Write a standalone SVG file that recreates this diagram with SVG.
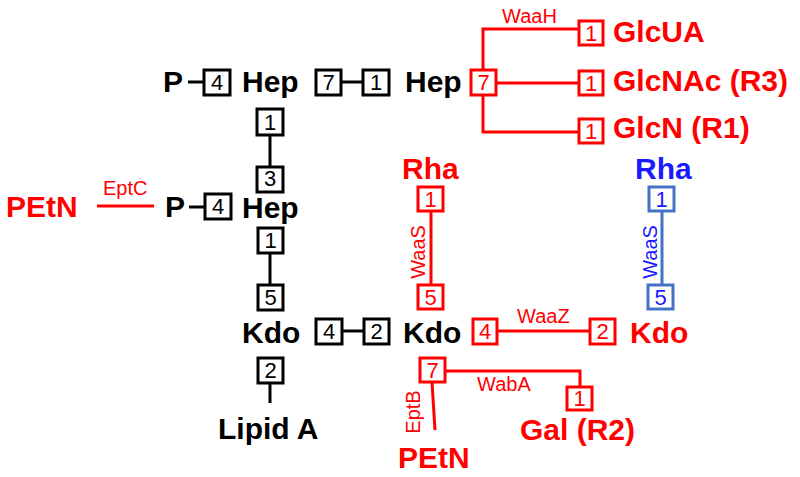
<svg xmlns="http://www.w3.org/2000/svg" width="800" height="477" viewBox="0 0 800 477">
<style>
.big{font-family:"Liberation Sans",Arial,sans-serif;font-weight:bold;font-size:30px}
.lab{font-family:"Liberation Sans",Arial,sans-serif;font-size:20px}
.num{font-family:"Liberation Sans",Arial,sans-serif;font-size:22px;text-anchor:middle}
.bx{fill:#fff;stroke-width:3}
.k{fill:#000}.r{fill:#ff0000}.b{fill:#1a1aff}
.kb{stroke:#000}.rb{stroke:#ff0000}.bb{stroke:#4472c4}
.ln{fill:none;stroke-width:3}
</style>
<rect width="800" height="477" fill="#fff"/>
<g id="connectors">
  <line class="ln kb" x1="188" y1="82" x2="204" y2="82"/>
  <line class="ln kb" x1="341" y1="82" x2="363" y2="82"/>
  <line class="ln kb" x1="270" y1="135" x2="270" y2="167"/>
  <line class="ln kb" x1="189" y1="207" x2="205" y2="207"/>
  <line class="ln kb" x1="270" y1="253" x2="270" y2="285"/>
  <line class="ln kb" x1="342" y1="331" x2="364" y2="331"/>
  <line class="ln kb" x1="270" y1="383" x2="270" y2="403"/>
  <line class="ln rb" x1="97" y1="206" x2="154" y2="206"/>
  <path class="ln rb" d="M579,29 H483 V132 H579 M496,83 H579"/>
  <line class="ln rb" x1="431" y1="211" x2="431" y2="285"/>
  <line class="ln bb" x1="662" y1="211" x2="662" y2="285"/>
  <line class="ln rb" x1="497" y1="331" x2="590" y2="331"/>
  <path class="ln rb" d="M445,371 H580 V387"/>
  <line class="ln rb" x1="432" y1="382" x2="435" y2="430"/>
  <text class="lab r" x="103" y="195">EptC</text>
  <text class="lab r" x="502" y="23">WaaH</text>
  <text class="lab r" x="517" y="323">WaaZ</text>
  <text class="lab r" x="477" y="391">WabA</text>
  <text class="lab r" transform="translate(425,252) rotate(-90)" text-anchor="middle">WaaS</text>
  <text class="lab b" transform="translate(657,252) rotate(-90)" text-anchor="middle">WaaS</text>
  <text class="lab r" transform="translate(420,412) rotate(-90)" text-anchor="middle">EptB</text>
</g>
<g id="P1"><text class="big k" x="163" y="92">P</text></g>
<g id="box-4a"><rect class="bx kb" x="204" y="70" width="26" height="25"/><text class="num k" x="217" y="90">4</text></g>
<g id="Hep1"><text class="big k" x="242" y="92">Hep</text></g>
<g id="box-7a"><rect class="bx kb" x="316" y="70" width="25" height="25"/><text class="num k" x="328.5" y="90">7</text></g>
<g id="box-1a"><rect class="bx kb" x="363" y="70" width="26" height="25"/><text class="num k" x="376" y="90">1</text></g>
<g id="Hep2"><text class="big k" x="405" y="92">Hep</text></g>
<g id="box-1b"><rect class="bx kb" x="257" y="109" width="26" height="26"/><text class="num k" x="270" y="130">1</text></g>
<g id="box-3"><rect class="bx kb" x="257" y="167" width="26" height="25"/><text class="num k" x="270" y="186">3</text></g>
<g id="P2"><text class="big k" x="165" y="217">P</text></g>
<g id="box-4b"><rect class="bx kb" x="205" y="194" width="26" height="25"/><text class="num k" x="218" y="214">4</text></g>
<g id="Hep3"><text class="big k" x="242" y="218">Hep</text></g>
<g id="box-1c"><rect class="bx kb" x="258" y="228" width="25" height="25"/><text class="num k" x="270.5" y="248">1</text></g>
<g id="box-5a"><rect class="bx kb" x="258" y="285" width="25" height="25"/><text class="num k" x="270.5" y="305">5</text></g>
<g id="Kdo1"><text class="big k" x="242" y="343">Kdo</text></g>
<g id="box-4c"><rect class="bx kb" x="316" y="319" width="26" height="25"/><text class="num k" x="329" y="339">4</text></g>
<g id="box-2a"><rect class="bx kb" x="364" y="319" width="25" height="25"/><text class="num k" x="376.5" y="339">2</text></g>
<g id="Kdo2"><text class="big k" x="403" y="343">Kdo</text></g>
<g id="box-2b"><rect class="bx kb" x="258" y="358" width="25" height="25"/><text class="num k" x="270.5" y="378">2</text></g>
<g id="LipidA"><text class="big k" x="218" y="439">Lipid A</text></g>
<g id="PEtN1"><text class="big r" x="6" y="217">PEtN</text></g>
<g id="box-7r"><rect class="bx rb" x="471" y="70" width="25" height="25"/><text class="num r" x="483.5" y="90">7</text></g>
<g id="box-1GlcUA"><rect class="bx rb" x="579" y="21" width="24" height="24"/><text class="num r" x="591" y="40.5">1</text></g>
<g id="GlcUA"><text class="big r" x="613" y="42">GlcUA</text></g>
<g id="box-1GlcNAc"><rect class="bx rb" x="579" y="71" width="24" height="24"/><text class="num r" x="591" y="90.5">1</text></g>
<g id="GlcNAc"><text class="big r" x="613" y="91">GlcNAc (R3)</text></g>
<g id="box-1GlcN"><rect class="bx rb" x="579" y="119" width="24" height="24"/><text class="num r" x="591" y="138.5">1</text></g>
<g id="GlcN"><text class="big r" x="613" y="138">GlcN (R1)</text></g>
<g id="Rha-red"><text class="big r" x="402" y="179">Rha</text></g>
<g id="box-1r"><rect class="bx rb" x="418" y="187" width="25" height="24"/><text class="num r" x="430.5" y="206.5">1</text></g>
<g id="box-5r"><rect class="bx rb" x="418" y="285" width="25" height="24"/><text class="num r" x="430.5" y="304.5">5</text></g>
<g id="Rha-blue"><text class="big b" x="635" y="179">Rha</text></g>
<g id="box-1bl"><rect class="bx bb" x="649" y="187" width="25" height="24"/><text class="num b" x="661.5" y="206.5">1</text></g>
<g id="box-5bl"><rect class="bx bb" x="648" y="285" width="25" height="24"/><text class="num b" x="660.5" y="304.5">5</text></g>
<g id="box-4r"><rect class="bx rb" x="473" y="319" width="24" height="25"/><text class="num r" x="485" y="339">4</text></g>
<g id="box-2r"><rect class="bx rb" x="590" y="319" width="25" height="25"/><text class="num r" x="602.5" y="339">2</text></g>
<g id="Kdo-red"><text class="big r" x="630" y="343">Kdo</text></g>
<g id="box-7r2"><rect class="bx rb" x="420" y="358" width="25" height="24"/><text class="num r" x="432.5" y="377.5">7</text></g>
<g id="box-1Gal"><rect class="bx rb" x="567" y="387" width="25" height="23"/><text class="num r" x="579.5" y="406">1</text></g>
<g id="Gal"><text class="big r" x="520" y="440">Gal (R2)</text></g>
<g id="PEtN2"><text class="big r" x="398" y="468">PEtN</text></g>
</svg>
